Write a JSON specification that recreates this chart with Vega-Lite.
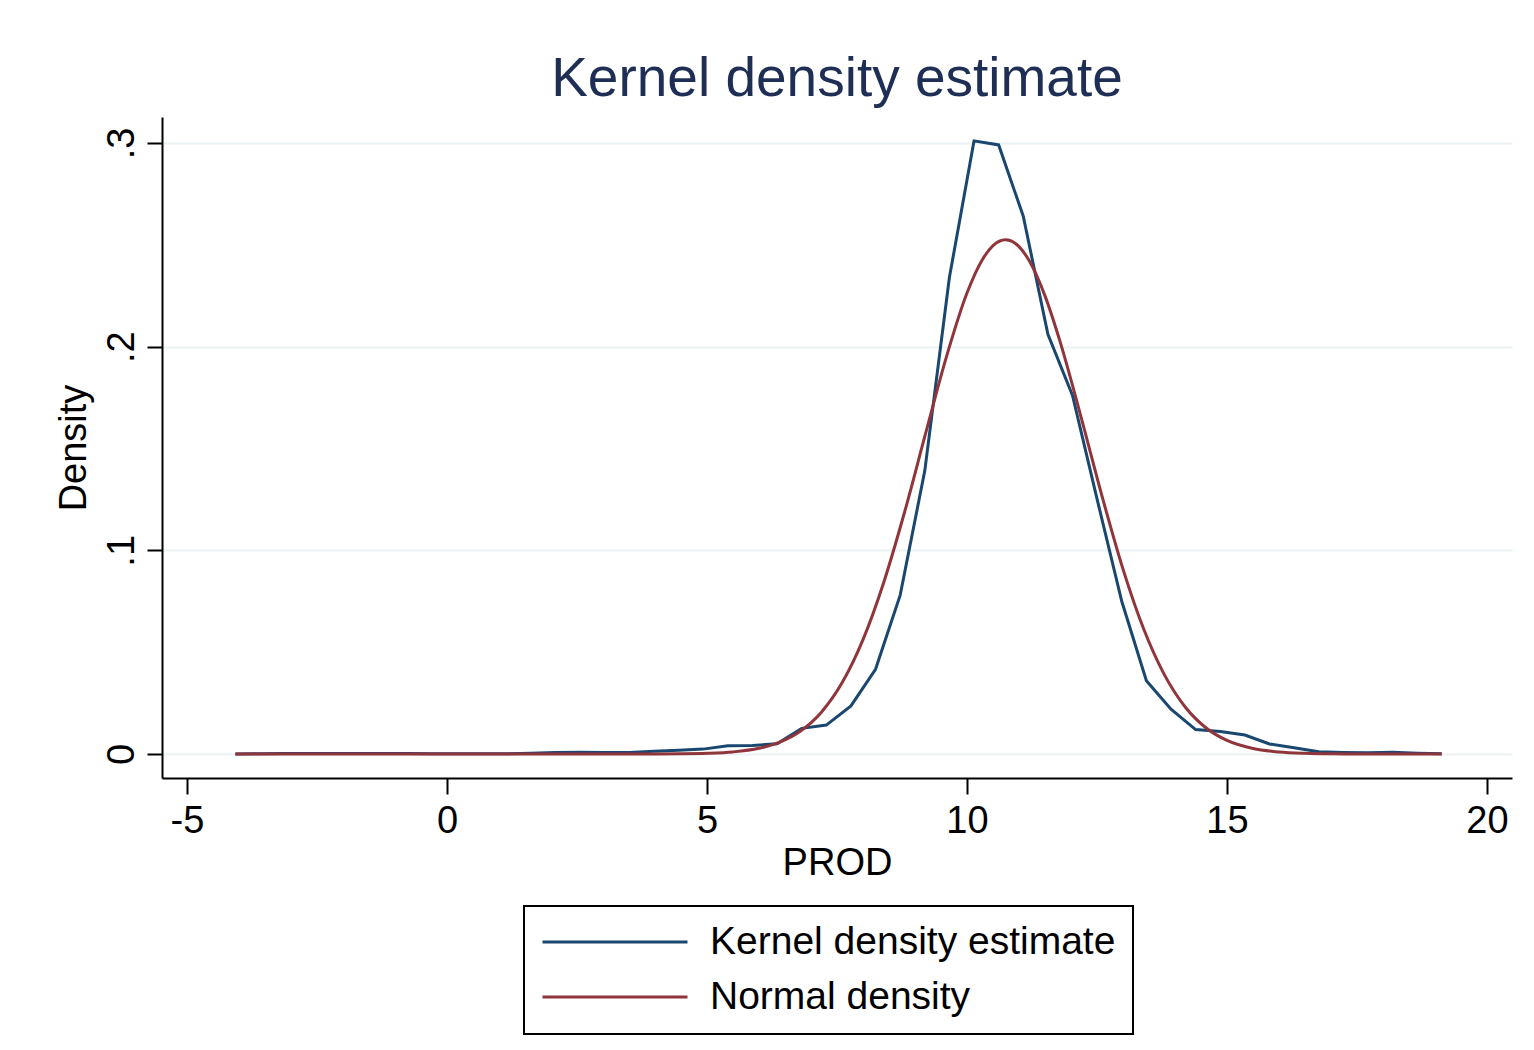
{
  "$schema": "https://vega.github.io/schema/vega-lite/v6.json",
  "width": 1350,
  "height": 661,
  "autosize": {"type": "none"},
  "padding": {"left": 162, "top": 117, "right": 22, "bottom": 272},
  "background": "white",
  "title": {"text": "Kernel density estimate", "fontSize": 55, "font": "Liberation Sans", "fontWeight": "normal", "color": "#1e2e55", "anchor": "middle", "offset": 9},
  "config": {
    "view": {"stroke": null},
    "axis": {
      "labelFont": "Liberation Sans", "titleFont": "Liberation Sans",
      "labelFontSize": 38, "titleFontSize": 38, "titleFontWeight": "normal",
      "labelColor": "black", "titleColor": "black",
      "domainColor": "black", "domainWidth": 2, "tickColor": "black", "tickWidth": 2
    }
  },
  "datasets": {
    "kde": [
      {"x": -4.07, "density": 0, "series": "Kernel density estimate"},
      {"x": -3.597, "density": 0.0001, "series": "Kernel density estimate"},
      {"x": -3.123, "density": 0.0002, "series": "Kernel density estimate"},
      {"x": -2.65, "density": 0.0003, "series": "Kernel density estimate"},
      {"x": -2.176, "density": 0.0003, "series": "Kernel density estimate"},
      {"x": -1.70, "density": 0.0002, "series": "Kernel density estimate"},
      {"x": -1.229, "density": 0.0002, "series": "Kernel density estimate"},
      {"x": -0.755, "density": 0.0002, "series": "Kernel density estimate"},
      {"x": -0.282, "density": 0.0001, "series": "Kernel density estimate"},
      {"x": 0.192, "density": 0.0001, "series": "Kernel density estimate"},
      {"x": 0.666, "density": 0.0001, "series": "Kernel density estimate"},
      {"x": 1.139, "density": 0.0001, "series": "Kernel density estimate"},
      {"x": 1.613, "density": 0.0004, "series": "Kernel density estimate"},
      {"x": 2.086, "density": 0.0008, "series": "Kernel density estimate"},
      {"x": 2.56, "density": 0.0009, "series": "Kernel density estimate"},
      {"x": 3.033, "density": 0.0007, "series": "Kernel density estimate"},
      {"x": 3.507, "density": 0.0008, "series": "Kernel density estimate"},
      {"x": 3.98, "density": 0.0014, "series": "Kernel density estimate"},
      {"x": 4.454, "density": 0.0018, "series": "Kernel density estimate"},
      {"x": 4.927, "density": 0.0024, "series": "Kernel density estimate"},
      {"x": 5.40, "density": 0.0040, "series": "Kernel density estimate"},
      {"x": 5.874, "density": 0.0042, "series": "Kernel density estimate"},
      {"x": 6.347, "density": 0.0050, "series": "Kernel density estimate"},
      {"x": 6.821, "density": 0.0126, "series": "Kernel density estimate"},
      {"x": 7.294, "density": 0.0142, "series": "Kernel density estimate"},
      {"x": 7.768, "density": 0.0236, "series": "Kernel density estimate"},
      {"x": 8.241, "density": 0.0416, "series": "Kernel density estimate"},
      {"x": 8.715, "density": 0.078, "series": "Kernel density estimate"},
      {"x": 9.188, "density": 0.139, "series": "Kernel density estimate"},
      {"x": 9.662, "density": 0.234, "series": "Kernel density estimate"},
      {"x": 10.135, "density": 0.301, "series": "Kernel density estimate"},
      {"x": 10.609, "density": 0.299, "series": "Kernel density estimate"},
      {"x": 11.082, "density": 0.264, "series": "Kernel density estimate"},
      {"x": 11.556, "density": 0.206, "series": "Kernel density estimate"},
      {"x": 12.029, "density": 0.176, "series": "Kernel density estimate"},
      {"x": 12.503, "density": 0.125, "series": "Kernel density estimate"},
      {"x": 12.976, "density": 0.075, "series": "Kernel density estimate"},
      {"x": 13.45, "density": 0.036, "series": "Kernel density estimate"},
      {"x": 13.923, "density": 0.022, "series": "Kernel density estimate"},
      {"x": 14.397, "density": 0.012, "series": "Kernel density estimate"},
      {"x": 14.87, "density": 0.011, "series": "Kernel density estimate"},
      {"x": 15.344, "density": 0.0093, "series": "Kernel density estimate"},
      {"x": 15.817, "density": 0.0049, "series": "Kernel density estimate"},
      {"x": 16.29, "density": 0.0031, "series": "Kernel density estimate"},
      {"x": 16.764, "density": 0.0011, "series": "Kernel density estimate"},
      {"x": 17.238, "density": 0.0008, "series": "Kernel density estimate"},
      {"x": 17.711, "density": 0.0006, "series": "Kernel density estimate"},
      {"x": 18.185, "density": 0.0008, "series": "Kernel density estimate"},
      {"x": 18.658, "density": 0.0004, "series": "Kernel density estimate"},
      {"x": 19.13, "density": 0.0001, "series": "Kernel density estimate"}
    ],
    "normal": [
      {"x": -4.07, "density": 0, "series": "Normal density"},
      {"x": 0, "density": 0, "series": "Normal density"},
      {"x": 3, "density": 0.000002, "series": "Normal density"},
      {"x": 4.0, "density": 0.000028, "series": "Normal density"},
      {"x": 4.5, "density": 0.000104, "series": "Normal density"},
      {"x": 5.0, "density": 0.000344, "series": "Normal density"},
      {"x": 5.5, "density": 0.001033, "series": "Normal density"},
      {"x": 6.0, "density": 0.002805, "series": "Normal density"},
      {"x": 6.4, "density": 0.005805, "series": "Normal density"},
      {"x": 6.8, "density": 0.01127, "series": "Normal density"},
      {"x": 7.2, "density": 0.02052, "series": "Normal density"},
      {"x": 7.6, "density": 0.03505, "series": "Normal density"},
      {"x": 8.0, "density": 0.05613, "series": "Normal density"},
      {"x": 8.4, "density": 0.08434, "series": "Normal density"},
      {"x": 8.8, "density": 0.1188, "series": "Normal density"},
      {"x": 9.2, "density": 0.1570, "series": "Normal density"},
      {"x": 9.6, "density": 0.1946, "series": "Normal density"},
      {"x": 10.0, "density": 0.2263, "series": "Normal density"},
      {"x": 10.3, "density": 0.2429, "series": "Normal density"},
      {"x": 10.5, "density": 0.2496, "series": "Normal density"},
      {"x": 10.74, "density": 0.2525, "series": "Normal density"},
      {"x": 11.0, "density": 0.2491, "series": "Normal density"},
      {"x": 11.2, "density": 0.2420, "series": "Normal density"},
      {"x": 11.5, "density": 0.2249, "series": "Normal density"},
      {"x": 11.8, "density": 0.2016, "series": "Normal density"},
      {"x": 12.2, "density": 0.1648, "series": "Normal density"},
      {"x": 12.6, "density": 0.1263, "series": "Normal density"},
      {"x": 13.0, "density": 0.09077, "series": "Normal density"},
      {"x": 13.4, "density": 0.06121, "series": "Normal density"},
      {"x": 13.8, "density": 0.03871, "series": "Normal density"},
      {"x": 14.2, "density": 0.02296, "series": "Normal density"},
      {"x": 14.6, "density": 0.01277, "series": "Normal density"},
      {"x": 15.0, "density": 0.006663, "series": "Normal density"},
      {"x": 15.5, "density": 0.0027, "series": "Normal density"},
      {"x": 16.0, "density": 0.00099, "series": "Normal density"},
      {"x": 16.5, "density": 0.000328, "series": "Normal density"},
      {"x": 17.0, "density": 0.000098, "series": "Normal density"},
      {"x": 18.0, "density": 0.00001, "series": "Normal density"},
      {"x": 19.13, "density": 0, "series": "Normal density"}
    ]
  },
  "encoding": {
    "x": {
      "field": "x", "type": "quantitative",
      "scale": {"domain": [-5.4808, 20.4808], "nice": false, "zero": false},
      "axis": {"values": [-5, 0, 5, 10, 15, 20], "grid": false, "title": "PROD", "tickSize": 16, "labelPadding": 8, "titlePadding": 4, "labelFlush": false,
        "labelExpr": "'' + datum.value"}
    },
    "y": {
      "field": "density", "type": "quantitative",
      "scale": {"domain": [-0.01178, 0.31272], "nice": false, "zero": false},
      "axis": {
        "values": [0, 0.1, 0.2, 0.3], "grid": true, "gridColor": "#eaf2f3", "gridWidth": 2,
        "labelExpr": "datum.value == 0 ? '0' : replace(format(datum.value, '.1f'), '0.', '.')",
        "labelAngle": 270, "labelAlign": "center", "labelBaseline": "alphabetic", "labelPadding": 14,
        "tickSize": 15, "title": "Density", "titlePadding": 10, "labelFlush": false
      }
    },
    "color": {
      "field": "series", "type": "nominal",
      "scale": {"domain": ["Kernel density estimate", "Normal density"], "range": ["#1a476f", "#90353b"]},
      "legend": {
        "orient": "none", "legendX": 362, "legendY": 789, "direction": "vertical", "title": null,
        "symbolType": "stroke", "symbolSize": 21025, "symbolStrokeWidth": 2.8, "clipHeight": 38,
        "labelFontSize": 39, "labelFont": "Liberation Sans", "labelColor": "black", "labelOffset": 21,
        "labelLimit": 1000, "strokeColor": "black", "padding": 17, "rowPadding": 16, "cornerRadius": 0,
        "encode": {"legend": {"update": {"strokeWidth": {"value": 2}}}}
      }
    }
  },
  "layer": [
    {"data": {"name": "kde"}, "mark": {"type": "line", "strokeWidth": 3}},
    {"data": {"name": "normal"}, "mark": {"type": "line", "strokeWidth": 3, "interpolate": "monotone"}}
  ]
}
